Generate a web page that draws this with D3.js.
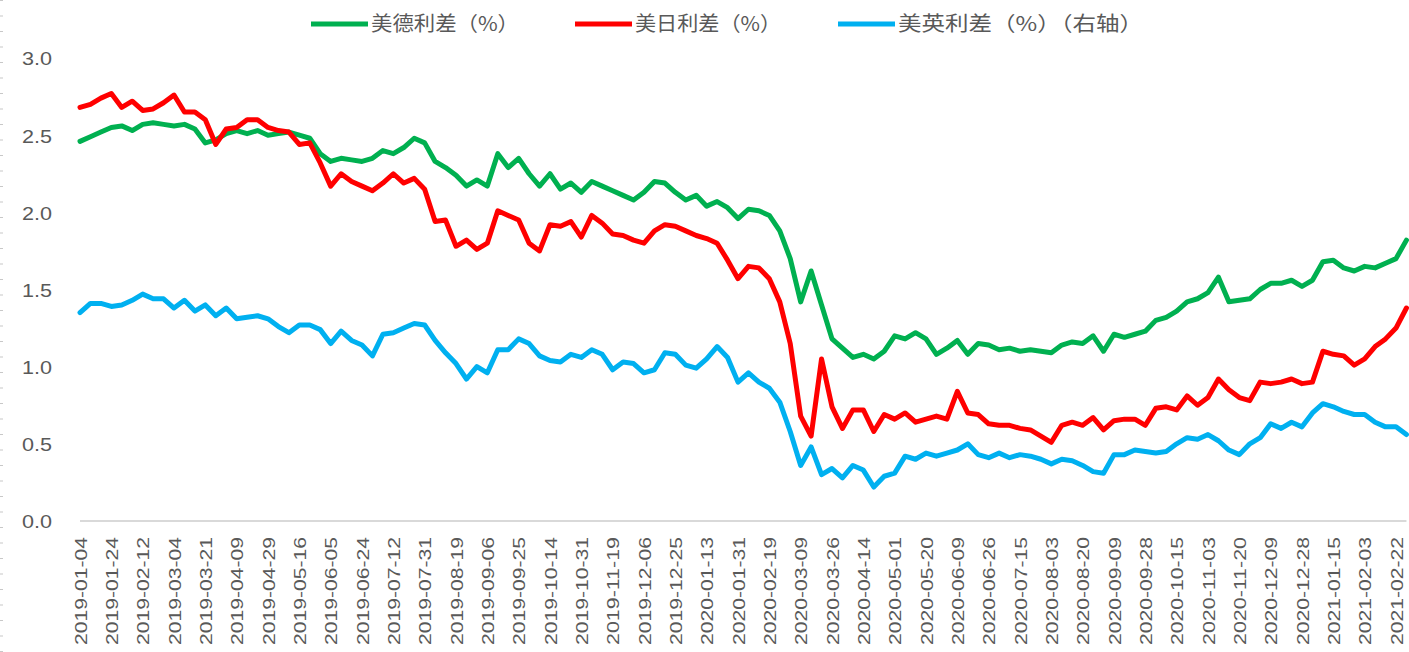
<!DOCTYPE html>
<html lang="zh">
<head>
<meta charset="UTF-8">
<title>美德、美日、美英利差</title>
<script src="https://d3js.org/d3.v7.min.js"></script>
<style>
  body { margin: 0; background: #fff; }
  svg text { font-family: "Liberation Sans", Arial, sans-serif; fill: #595959; }
  .legend text { font-family: "Noto Sans CJK SC", sans-serif; }
</style>
</head>
<body>
<svg id="chart" width="1409" height="652"></svg>
<script>
// x-axis labels (one every 13 trading days)
const dateLabels = [
  "2019-01-04","2019-01-24","2019-02-12","2019-03-04","2019-03-21","2019-04-09","2019-04-29",
  "2019-05-16","2019-06-05","2019-06-24","2019-07-12","2019-07-31","2019-08-19","2019-09-06",
  "2019-09-25","2019-10-14","2019-10-31","2019-11-19","2019-12-06","2019-12-25","2020-01-13",
  "2020-01-31","2020-02-19","2020-03-09","2020-03-26","2020-04-14","2020-05-01","2020-05-20",
  "2020-06-09","2020-06-26","2020-07-15","2020-08-03","2020-08-20","2020-09-09","2020-09-28",
  "2020-10-15","2020-11-03","2020-11-20","2020-12-09","2020-12-28","2021-01-15","2021-02-03",
  "2021-02-22"
];
const step = 3; // readings per label interval

const usDe = [
  2.46,2.49,2.52,2.55,2.56,2.53,2.57,2.58,2.57,2.56,2.57,2.54,2.45,2.47,2.51,2.53,2.51,2.53,2.50,2.51,
  2.52,2.50,2.48,2.38,2.33,2.35,2.34,2.33,2.35,2.40,2.38,2.42,2.48,2.45,2.33,2.29,2.24,2.17,2.21,2.17,
  2.38,2.29,2.35,2.25,2.17,2.25,2.15,2.19,2.13,2.20,2.17,2.14,2.11,2.08,2.13,2.20,2.19,2.13,2.08,2.11,
  2.04,2.07,2.03,1.96,2.02,2.01,1.98,1.88,1.70,1.42,1.62,1.40,1.18,1.12,1.06,1.08,1.05,1.10,1.20,1.18,
  1.22,1.18,1.08,1.12,1.17,1.08,1.15,1.14,1.11,1.12,1.10,1.11,1.10,1.09,1.14,1.16,1.15,1.20,1.10,1.21,
  1.19,1.21,1.23,1.30,1.32,1.36,1.42,1.44,1.48,1.58,1.42,1.43,1.44,1.50,1.54,1.54,1.56,1.52,1.56,1.68,
  1.69,1.64,1.62,1.65,1.64,1.67,1.70,1.82
];
const usJp = [
  2.68,2.70,2.74,2.77,2.68,2.72,2.66,2.67,2.71,2.76,2.65,2.65,2.60,2.44,2.54,2.55,2.60,2.60,2.55,2.53,
  2.52,2.44,2.45,2.32,2.17,2.25,2.20,2.17,2.14,2.19,2.25,2.19,2.22,2.15,1.94,1.95,1.78,1.82,1.76,1.80,
  2.01,1.98,1.95,1.80,1.75,1.92,1.91,1.94,1.84,1.98,1.93,1.86,1.85,1.82,1.80,1.88,1.92,1.91,1.88,1.85,
  1.83,1.80,1.69,1.57,1.65,1.64,1.57,1.42,1.15,0.68,0.55,1.05,0.74,0.60,0.72,0.72,0.58,0.69,0.66,0.70,
  0.64,0.66,0.68,0.66,0.84,0.70,0.69,0.63,0.62,0.62,0.60,0.59,0.55,0.51,0.62,0.64,0.62,0.67,0.59,0.65,
  0.66,0.66,0.62,0.73,0.74,0.72,0.81,0.75,0.80,0.92,0.85,0.80,0.78,0.90,0.89,0.90,0.92,0.89,0.90,1.10,
  1.08,1.07,1.01,1.05,1.13,1.18,1.25,1.38
];
const usUk = [
  1.35,1.41,1.41,1.39,1.40,1.43,1.47,1.44,1.44,1.38,1.43,1.36,1.40,1.33,1.38,1.31,1.32,1.33,1.31,1.26,
  1.22,1.27,1.27,1.24,1.15,1.23,1.17,1.14,1.07,1.21,1.22,1.25,1.28,1.27,1.17,1.09,1.02,0.92,1.00,0.96,
  1.11,1.11,1.18,1.15,1.07,1.04,1.03,1.08,1.06,1.11,1.08,0.98,1.03,1.02,0.96,0.98,1.09,1.08,1.01,0.99,
  1.05,1.13,1.06,0.90,0.96,0.90,0.86,0.77,0.58,0.36,0.48,0.30,0.34,0.28,0.36,0.33,0.22,0.29,0.31,0.42,
  0.40,0.44,0.42,0.44,0.46,0.50,0.43,0.41,0.44,0.41,0.43,0.42,0.40,0.37,0.40,0.39,0.36,0.32,0.31,0.43,
  0.43,0.46,0.45,0.44,0.45,0.50,0.54,0.53,0.56,0.52,0.46,0.43,0.50,0.54,0.63,0.60,0.64,0.61,0.70,0.76,
  0.74,0.71,0.69,0.69,0.64,0.61,0.61,0.56
];
const yTicks = [0, 0.5, 1.0, 1.5, 2.0, 2.5, 3.0];

const series = [
  { name: "美德利差（%）", color: "#00b050", values: usDe },
  { name: "美日利差（%）", color: "#ff0000", values: usJp },
  { name: "美英利差（%）（右轴）", color: "#00b0f0", values: usUk }
];

const svg = d3.select("#chart");
const x = d3.scaleLinear().domain([0, dateLabels.length - 1]).range([80, 1396]);
const y = d3.scaleLinear().domain([0, 3]).range([521, 58]);
const lastIdx = (usDe.length - 1) / step;

// faint dotted edge on the far left
svg.append("line")
  .attr("x1", 1.5).attr("x2", 1.5).attr("y1", 0).attr("y2", 652)
  .attr("stroke", "#c8c8c8").attr("stroke-width", 3)
  .attr("stroke-dasharray", "1,14.5");

// y axis labels
const yAxis = svg.append("g")
  .attr("transform", "translate(54,0)")
  .call(d3.axisLeft(y).tickValues(yTicks).tickFormat(d3.format(".1f")).tickSize(0).tickPadding(2));
yAxis.select(".domain").remove();
yAxis.selectAll("text").style("font-size", "19px").attr("dy", "0.36em")
  .attr("textLength", 30).attr("lengthAdjust", "spacingAndGlyphs");

// x axis
const xAxis = svg.append("g")
  .attr("transform", "translate(0,521)")
  .call(d3.axisBottom(x).tickValues(d3.range(dateLabels.length)).tickFormat(i => dateLabels[i]).tickSize(0));
xAxis.select(".domain").remove();
xAxis.append("line")
  .attr("x1", x(0)).attr("x2", x(lastIdx))
  .attr("stroke", "#d9d9d9").attr("stroke-width", 2);
xAxis.selectAll(".tick text")
  .style("font-size", "17px")
  .attr("text-anchor", "end")
  .attr("transform", "rotate(-90)")
  .attr("x", -16).attr("y", 0).attr("dy", "0.36em")
  .attr("textLength", 108).attr("lengthAdjust", "spacingAndGlyphs");

// lines
const line = d3.line()
  .x((d, i) => x(i / step))
  .y(d => y(d));

svg.append("g").selectAll("path")
  .data(series)
  .join("path")
  .attr("d", d => line(d.values))
  .attr("fill", "none")
  .attr("stroke", d => d.color)
  .attr("stroke-width", 5)
  .attr("stroke-linejoin", "round")
  .attr("stroke-linecap", "round");

// legend (item start and stretched text width, as in the original)
const legendX = [311, 575, 838];
const legendW = [148, 146, 245];
const legend = svg.append("g").attr("class", "legend");
series.forEach((s, i) => {
  legend.append("line")
    .attr("x1", legendX[i]).attr("x2", legendX[i] + 57).attr("y1", 24).attr("y2", 24)
    .attr("stroke", s.color).attr("stroke-width", 5);
  legend.append("text")
    .attr("x", legendX[i] + 60).attr("y", 24).attr("dy", "0.36em")
    .style("font-size", "20px")
    .attr("textLength", legendW[i]).attr("lengthAdjust", "spacingAndGlyphs")
    .text(s.name);
});
</script>
</body>
</html>
